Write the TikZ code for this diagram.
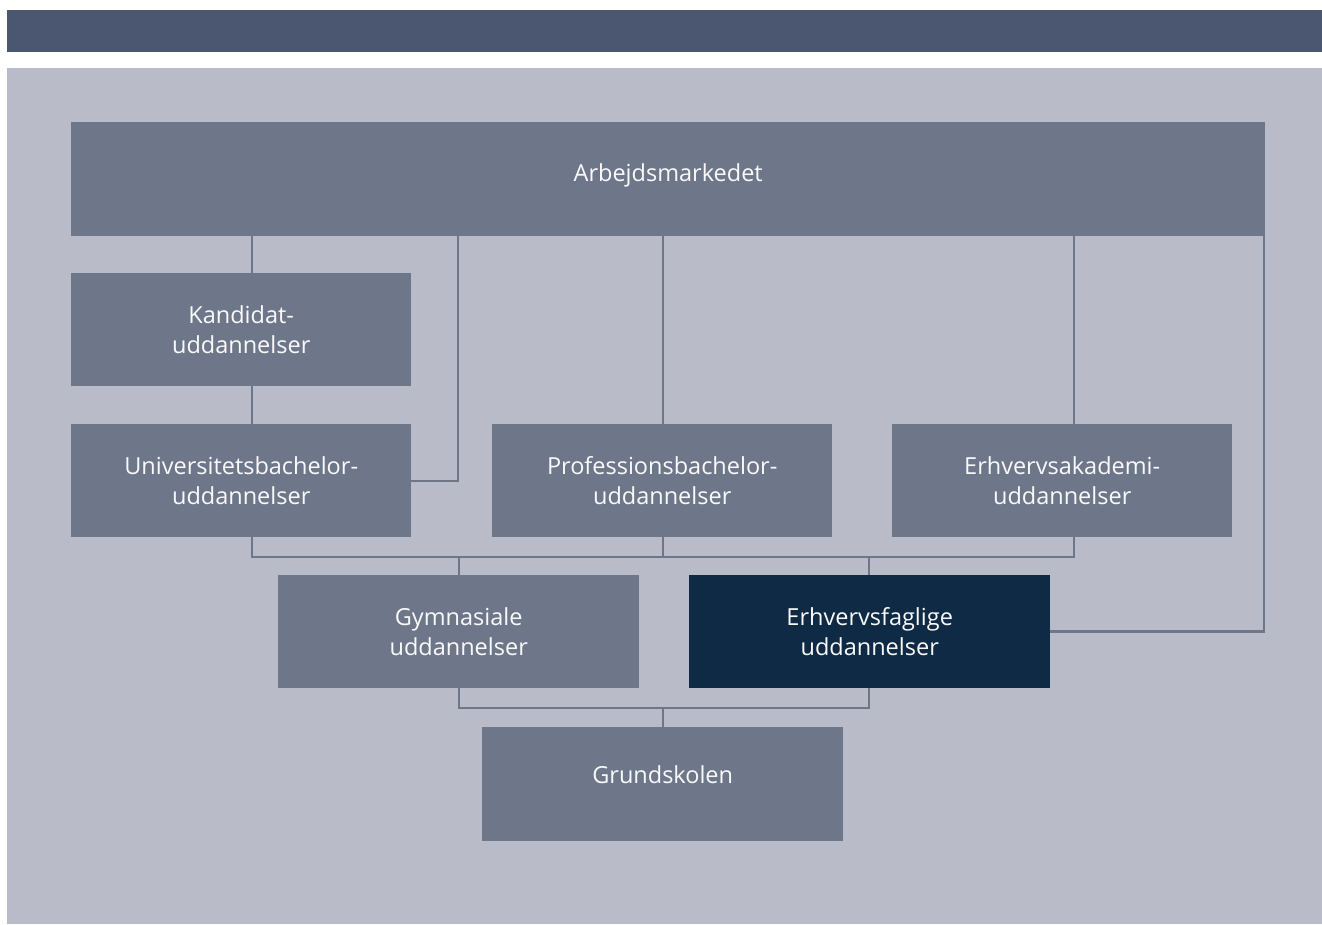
\documentclass[tikz,border=0pt]{standalone}
\usepackage{fontspec}
\setmainfont{Open Sans}
\definecolor{barc}{HTML}{4B5770}
\definecolor{panelc}{HTML}{B9BBC8}
\definecolor{boxc}{HTML}{6E778A}
\definecolor{darkc}{HTML}{0E2A45}
\definecolor{linec}{HTML}{6E778A}
\tikzset{
  box/.style={fill=boxc, draw=none, text=white!95!gray, align=center, inner sep=0pt,
    font=\fontsize{23.5}{30}\selectfont},
  darkbox/.style={box, fill=darkc},
  lift/.style={text height=20pt, text depth={20pt-2*(8.4pt-#1)}},
  conn/.style={draw=linec, line width=2.5pt},
}
\begin{document}
\begin{tikzpicture}[x=1pt,y=-1pt]
\useasboundingbox (0,0) rectangle (1322,925);
\fill[white] (0,0) rectangle (1322,925);
\fill[barc] (7,10) rectangle (1322,52);
\fill[panelc] (7,68) rectangle (1322,924);
% nodes
\node[box, lift=5.7pt, minimum width=1194pt, minimum height=113.5pt, anchor=north west] (arb) at (71,122) {Arbejdsmarkedet};
\node[box, minimum width=340pt, minimum height=113pt, anchor=north west] (kand) at (71,273) {Kandidat-\\uddannelser};
\node[box, minimum width=340pt, minimum height=113pt, anchor=north west] (univ) at (71,424) {Universitetsbachelor-\\uddannelser};
\node[box, minimum width=340pt, minimum height=113pt, anchor=north west] (prof) at (492,424) {Professionsbachelor-\\uddannelser};
\node[box, minimum width=340pt, minimum height=113pt, anchor=north west] (erak) at (892,424) {Erhvervsakademi-\\uddannelser};
\node[box, minimum width=361pt, minimum height=113pt, anchor=north west] (gym) at (278,575) {Gymnasiale\\uddannelser};
\node[darkbox, minimum width=361pt, minimum height=113pt, anchor=north west] (erfa) at (689,575) {Erhvervsfaglige\\uddannelser};
\node[box, lift=9pt, minimum width=361pt, minimum height=113.5pt, anchor=north west] (grund) at (482,727) {Grundskolen};
% connectors
\draw[conn] (kand.north -| 252,0) -- (arb.south -| 252,0);
\draw[conn] (kand.south -| 252,0) -- (univ.north -| 252,0);
\draw[conn] (univ.east |- 0,481) -| (arb.south -| 458,0);
\draw[conn] (prof.north -| 663,0) -- (arb.south -| 663,0);
\draw[conn] (erak.north -| 1074,0) -- (arb.south -| 1074,0);
\draw[conn] (erfa.east) -| (arb.south -| 1264,0);
% upper bus
\draw[conn] (univ.south -| 252,0) -- (252,557) -- (1074,557) -- (erak.south -| 1074,0);
\draw[conn] (prof.south -| 663,0) -- (663,557);
\draw[conn] (459,557) -- (gym.north -| 459,0);
\draw[conn] (869,557) -- (erfa.north -| 869,0);
% lower bus
\draw[conn] (gym.south -| 459,0) |- (869,708) -- (erfa.south -| 869,0);
\draw[conn] (663,708) -- (grund.north -| 663,0);
\end{tikzpicture}
\end{document}
